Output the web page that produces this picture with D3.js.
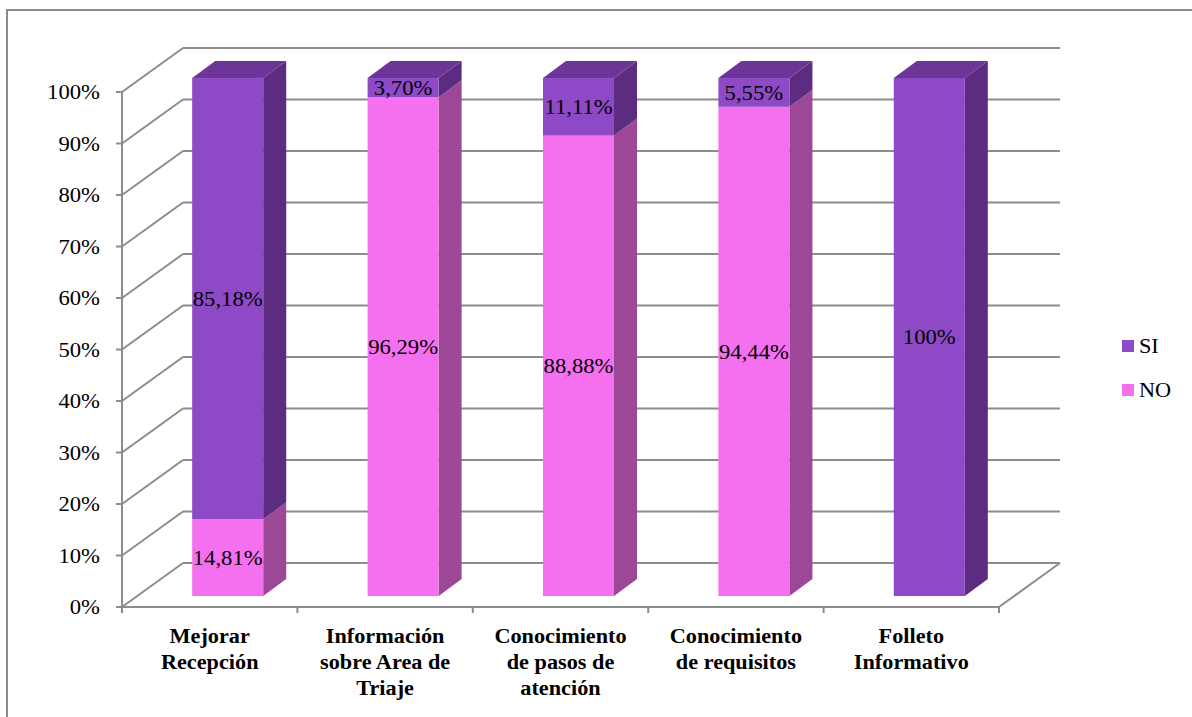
<!DOCTYPE html>
<html><head><meta charset="utf-8">
<script src="https://cdnjs.cloudflare.com/ajax/libs/d3/7.8.5/d3.min.js"></script>
<style>
html,body{margin:0;padding:0;background:#fff;}
svg{display:block;}
</style></head>
<body>
<svg id="chart" width="1192" height="717"></svg>
<script>
const categories = [
  ["Mejorar","Recepción"],
  ["Información","sobre Area de","Triaje"],
  ["Conocimiento","de pasos de","atención"],
  ["Conocimiento","de requisitos"],
  ["Folleto","Informativo"]
];
const siValues = [85.18, 3.70, 11.11, 5.55, 100];
const noValues = [14.81, 96.29, 88.88, 94.44, 0];
const siLabels = ["85,18%","3,70%","11,11%","5,55%","100%"];
const noLabels = ["14,81%","96,29%","88,88%","94,44%",""];
const tickValues = [0,10,20,30,40,50,60,70,80,90,100];
const seriesNames = ["SI","NO"];

const colors = {
  SI:{front:"#8E4AC6", top:"#6C3597", side:"#5B2C80"},
  NO:{front:"#F570EF", top:"#C458BF", side:"#9D4896"}
};
const gridColor = "#8c8c8c";
const FONT = "Liberation Serif";

const svg = d3.select("#chart");

svg.append("path").attr("d","M7,717 L7,10 L1192,10")
  .attr("fill","none").attr("stroke","#8a8a8a").attr("stroke-width",2);

const x = d3.scaleBand().domain(d3.range(categories.length)).range([122, 999]);
const y = d3.scaleLinear().domain([0,100]).range([607, 92]);
const yBar = d3.scaleLinear().domain([0,100]).range([596, 78]);
const depthX = 61, depthY = -44;
const barDX = 23, barDY = -17;
const barShift = 18;
const barW = x.bandwidth()*0.405;

const grid = svg.append("g");
tickValues.forEach(t=>{
  const yy = y(t);
  grid.append("line").attr("x1",122+depthX).attr("x2",999+depthX)
    .attr("y1",yy+depthY).attr("y2",yy+depthY)
    .attr("stroke",gridColor).attr("stroke-width",2);
  grid.append("line").attr("x1",122).attr("y1",yy)
    .attr("x2",122+depthX).attr("y2",yy+depthY)
    .attr("stroke",gridColor).attr("stroke-width",2);
});
grid.append("line").attr("x1",999).attr("y1",y(0))
  .attr("x2",999+depthX).attr("y2",y(0)+depthY)
  .attr("stroke",gridColor).attr("stroke-width",2);

grid.append("line").attr("x1",122).attr("x2",122).attr("y1",y(0)).attr("y2",y(100))
  .attr("stroke",gridColor).attr("stroke-width",2);
grid.append("line").attr("x1",122).attr("x2",999).attr("y1",y(0)).attr("y2",y(0))
  .attr("stroke",gridColor).attr("stroke-width",2);
tickValues.forEach(t=>{
  grid.append("line").attr("x1",116).attr("x2",122).attr("y1",y(t)).attr("y2",y(t))
    .attr("stroke",gridColor).attr("stroke-width",2);
  svg.append("text").attr("transform",`translate(100,${y(t)}) scale(1.08,1)`)
    .attr("text-anchor","end").attr("dy","0.35em").attr("font-family",FONT)
    .attr("font-size",21).attr("fill","#000").text(t+"%");
});
d3.range(categories.length+1).forEach(i=>{
  const xx = 122 + i*x.step();
  grid.append("line").attr("x1",xx).attr("x2",xx).attr("y1",y(0)).attr("y2",y(0)+6)
    .attr("stroke",gridColor).attr("stroke-width",2);
});

const bars = svg.append("g");
categories.forEach((c,i)=>{
  const x0 = x(i) + (x.bandwidth()-barW)/2 + barShift;
  const x1 = x0 + barW;
  const segs = [
    {name:"NO", v0:0, v1:noValues[i], label:noLabels[i]},
    {name:"SI", v0:noValues[i], v1:noValues[i]+siValues[i], label:siLabels[i]}
  ].filter(s=>s.v1-s.v0>0);
  segs.forEach((s,k)=>{
    const yb = yBar(s.v0), yt = yBar(s.v1);
    const col = colors[s.name];
    bars.append("path").attr("d",`M${x1},${yb} L${x1+barDX},${yb+barDY} L${x1+barDX},${yt+barDY} L${x1},${yt} Z`)
      .attr("fill",col.side);
    bars.append("rect").attr("x",x0).attr("y",yt).attr("width",barW).attr("height",yb-yt)
      .attr("fill",col.front);
    if(k===segs.length-1){
      bars.append("path").attr("d",`M${x0},${yt} L${x0+barDX},${yt+barDY} L${x1+barDX},${yt+barDY} L${x1},${yt} Z`)
        .attr("fill",col.top);
    }
  });
  segs.forEach(s=>{
    if(!s.label) return;
    const ym = (yBar(s.v0)+yBar(s.v1))/2;
    bars.append("text").attr("transform",`translate(${(x0+x1)/2},${ym}) scale(1.08,1)`)
      .attr("text-anchor","middle").attr("dy","0.35em").attr("font-family",FONT)
      .attr("font-size",21).attr("fill","#000").text(s.label);
  });
  const cx = x(i) + x.bandwidth()/2;
  c.forEach((line,li)=>{
    svg.append("text").attr("transform",`translate(${cx},${643+li*26}) scale(1.06,1)`)
      .attr("text-anchor","middle").attr("font-weight","bold").attr("font-family",FONT)
      .attr("font-size",21).attr("fill","#000").text(line);
  });
});

const legend = svg.append("g");
seriesNames.forEach((n,i)=>{
  const ly = 346 + i*44;
  legend.append("rect").attr("x",1122).attr("y",ly-6).attr("width",12).attr("height",12)
    .attr("fill",colors[n].front);
  legend.append("text").attr("transform",`translate(1139,${ly}) scale(1.06,1)`)
    .attr("dy","0.35em").attr("font-family",FONT).attr("font-size",21).attr("fill","#000").text(n);
});
</script>
</body></html>
